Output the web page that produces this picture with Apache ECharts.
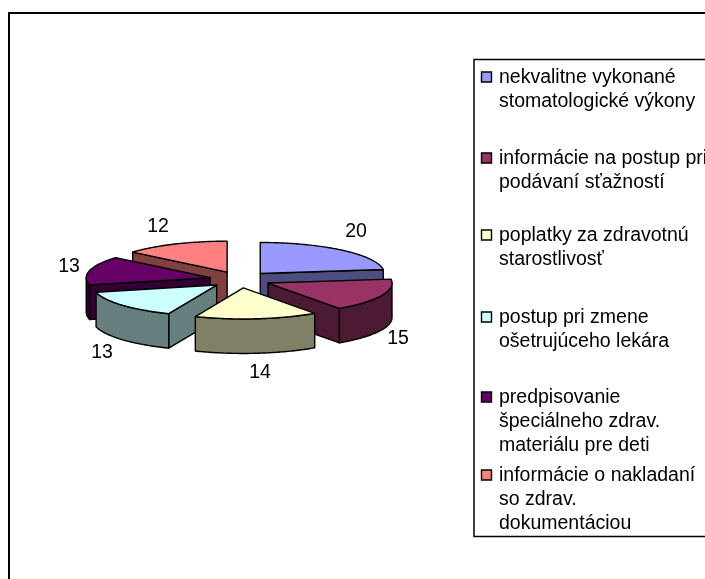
<!DOCTYPE html>
<html>
<head>
<meta charset="utf-8">
<style>
  html, body { margin: 0; padding: 0; background: #fff; }
  #chart { width: 705px; height: 579px; }
</style>
<script src="https://cdn.jsdelivr.net/npm/echarts@6/dist/echarts.min.js"></script>
</head>
<body>
<div id="chart"></div>
<script>
const categories = [
  'nekvalitne vykonané\nstomatologické výkony',
  'informácie na postup pri\npodávaní sťažností',
  'poplatky za zdravotnú\nstarostlivosť',
  'postup pri zmene\nošetrujúceho lekára',
  'predpisovanie\nšpeciálneho zdrav.\nmateriálu pre deti',
  'informácie o nakladaní\nso zdrav.\ndokumentáciou',
]
const values = [20, 15, 14, 13, 13, 12]
const topColors = ['#9999FF', '#993366', '#FFFFCC', '#CCFFFF', '#660066', '#FF8080']
const sideColors = ['#4D4D80', '#4D1A33', '#808066', '#668080', '#330033', '#804040']

// back slices first, so the front ones cover them
const drawOrder = [5, 0, 4, 1, 3, 2]

// pie layout
const cx = 240
const cy = 279.7
const rx = 124
const ry = 31
const depth = 34.5
const explodeX = 30.6
const explodeY = 8.3
const font = '"Liberation Sans", Arial, sans-serif'

// where the value labels sit, slice by slice
const labelPos = [[356, 232], [398, 339], [260, 373], [102, 353], [69, 267], [158, 227]]
// top of each legend entry
const legendY = [66, 147, 224, 306, 386, 464]

const total = values.reduce((a, b) => a + b, 0)
const starts = []
let sum = 0
values.forEach((v) => {
  starts.push((sum / total) * 360)
  sum += v
})

const rad = (d) => (d * Math.PI) / 180

function renderSlice(params) {
  const i = drawOrder[params.dataIndex]
  const a0 = starts[i]
  const a1 = a0 + (values[i] / total) * 360
  const mid = rad((a0 + a1) / 2)
  const ox = cx + explodeX * Math.sin(mid)
  const oy = cy - explodeY * Math.cos(mid)
  const rim = (a, h) => [ox + rx * Math.sin(rad(a)), oy - ry * Math.cos(rad(a)) + h]
  const arc = (from, to, h) => {
    const pts = []
    const n = Math.max(2, Math.ceil(to - from))
    for (let k = 0; k <= n; k++) pts.push(rim(from + ((to - from) * k) / n, h))
    return pts
  }
  const children = []
  const add = (points, fill) => {
    children.push({
      type: 'polygon',
      shape: { points: points },
      style: { fill: fill, stroke: '#000', lineWidth: 1.4, lineJoin: 'round' },
    })
  }
  // radial walls facing the viewer
  if (Math.sin(rad(a0)) < -0.01) {
    add([[ox, oy], rim(a0, 0), rim(a0, depth), [ox, oy + depth]], sideColors[i])
  }
  if (Math.sin(rad(a1)) > 0.01) {
    add([[ox, oy], rim(a1, 0), rim(a1, depth), [ox, oy + depth]], sideColors[i])
  }
  // outer rim, front half only
  const f0 = Math.max(a0, 90)
  const f1 = Math.min(a1, 270)
  if (f1 > f0) {
    add(arc(f0, f1, 0).concat(arc(f0, f1, depth).reverse()), sideColors[i])
  }
  // top face
  add([[ox, oy]].concat(arc(a0, a1, 0)), topColors[i])
  children.push({
    type: 'text',
    z2: 10,
    style: {
      text: String(values[i]),
      x: labelPos[i][0],
      y: labelPos[i][1],
      align: 'center',
      verticalAlign: 'middle',
      fill: '#000',
      font: '19.5px ' + font,
    },
  })
  return { type: 'group', children: children }
}

// frame and legend box run off the right and bottom of the picture
const frameLines = [
  { type: 'polyline', shape: { points: [[9, 579], [9, 13], [705, 13]] }, style: { fill: null, stroke: '#000', lineWidth: 2 } },
  { type: 'polyline', shape: { points: [[705, 59.5], [474, 59.5], [474, 536.5], [705, 536.5]] }, style: { fill: null, stroke: '#000', lineWidth: 1.5 } },
]

const legendItems = []
categories.forEach((name, i) => {
  legendItems.push({
    type: 'rect',
    shape: { x: 481.5, y: legendY[i] + 6, width: 10, height: 10 },
    style: { fill: topColors[i], stroke: '#000', lineWidth: 1.4 },
  })
  legendItems.push({
    type: 'text',
    x: 499,
    y: legendY[i],
    style: { text: name, fill: '#000', font: '19.5px ' + font, lineHeight: 24 },
  })
})

const myChart = echarts.init(document.getElementById('chart'), null, { renderer: 'canvas' })
myChart.setOption({
  animation: false,
  backgroundColor: '#fff',
  graphic: { elements: frameLines.concat(legendItems) },
  series: [
    {
      type: 'custom',
      coordinateSystem: 'none',
      silent: true,
      renderItem: renderSlice,
      data: drawOrder.map((i) => values[i]),
    },
  ],
})
</script>
</body>
</html>
